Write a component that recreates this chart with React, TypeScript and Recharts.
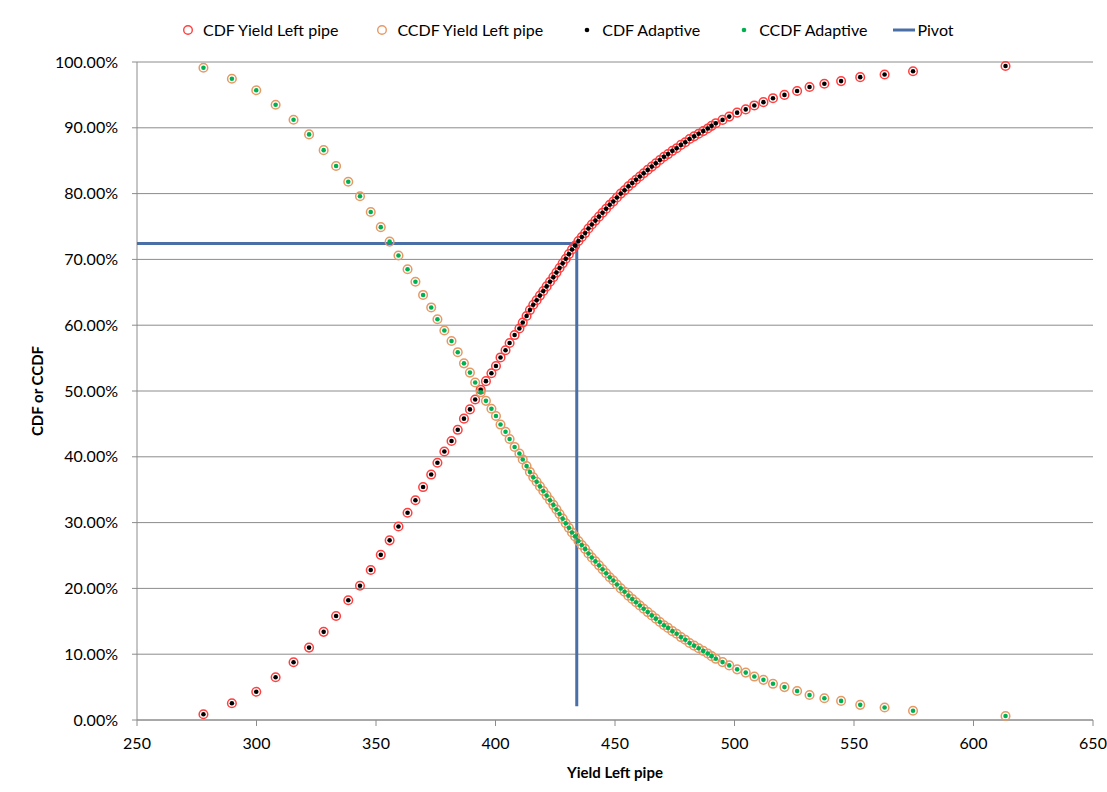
import { ScatterChart, Scatter, XAxis, YAxis, CartesianGrid } from 'recharts';

// Yield values (x) shared by the CDF / CCDF samples
const yieldX = [
  277.8, 289.7, 299.9, 308.0, 315.5, 322.0, 328.1, 333.3, 338.4, 343.3,
  347.8, 352.0, 355.7, 359.4, 363.2, 366.5, 369.7, 373.1, 375.7, 378.6,
  381.6, 384.2, 386.8, 389.3, 391.5, 393.8, 396.0, 398.3, 400.2, 402.1,
  404.2, 405.9, 408.0, 410.0, 411.4, 413.0, 414.4, 415.8, 417.2, 418.6,
  420.0, 421.4, 422.8, 424.2, 425.5, 426.8, 428.1, 429.4, 430.7, 432.0,
  433.3, 434.7, 436.1, 437.5, 438.9, 440.3, 441.8, 443.3, 444.8, 446.3,
  447.8, 449.3, 450.8, 452.4, 454.0, 455.6, 457.2, 458.8, 460.4, 462.0,
  463.7, 465.4, 467.1, 468.8, 470.5, 472.2, 474.0, 475.8, 477.6, 479.4,
  481.2, 483.1, 485.0, 486.9, 488.8, 490.4, 492.2, 495.0, 497.8, 501.1,
  504.7, 508.3, 512.1, 516.1, 520.9, 526.2, 531.4, 537.6, 544.6, 552.6,
  562.8, 574.7, 613.4,
];

// CDF in percent
const cdfPct = [
  0.87, 2.54, 4.3, 6.5, 8.77, 11.0, 13.4, 15.8, 18.2, 20.4,
  22.8, 25.1, 27.3, 29.4, 31.5, 33.4, 35.4, 37.3, 39.1, 40.8,
  42.4, 44.1, 45.8, 47.2, 48.7, 50.2, 51.5, 52.7, 53.8, 55.1,
  56.2, 57.3, 58.5, 59.5, 60.4, 61.4, 62.3, 63.1, 63.8, 64.5,
  65.2, 65.9, 66.6, 67.3, 68.0, 68.7, 69.4, 70.1, 70.8, 71.5,
  72.1, 72.8, 73.4, 74.0, 74.7, 75.3, 75.9, 76.5, 77.1, 77.7,
  78.3, 78.8, 79.4, 80.0, 80.5, 81.1, 81.6, 82.1, 82.6, 83.1,
  83.6, 84.1, 84.6, 85.1, 85.6, 86.0, 86.5, 86.9, 87.4, 87.8,
  88.3, 88.7, 89.1, 89.5, 89.9, 90.3, 90.7, 91.2, 91.7, 92.3,
  92.8, 93.4, 93.9, 94.5, 95.0, 95.6, 96.2, 96.7, 97.1, 97.7,
  98.1, 98.6, 99.4,
];

// CCDF in percent
const ccdfPct = [
  99.13, 97.46, 95.7, 93.5, 91.23, 89.0, 86.6, 84.2, 81.8, 79.6,
  77.2, 74.9, 72.7, 70.6, 68.5, 66.6, 64.6, 62.7, 60.9, 59.2,
  57.6, 55.9, 54.2, 52.8, 51.3, 49.8, 48.5, 47.3, 46.2, 44.9,
  43.8, 42.7, 41.5, 40.5, 39.6, 38.6, 37.7, 36.9, 36.2, 35.5,
  34.8, 34.1, 33.4, 32.7, 32.0, 31.3, 30.6, 29.9, 29.2, 28.5,
  27.9, 27.2, 26.6, 26.0, 25.3, 24.7, 24.1, 23.5, 22.9, 22.3,
  21.7, 21.2, 20.6, 20.0, 19.5, 18.9, 18.4, 17.9, 17.4, 16.9,
  16.4, 15.9, 15.4, 14.9, 14.4, 14.0, 13.5, 13.1, 12.6, 12.2,
  11.7, 11.3, 10.9, 10.5, 10.1, 9.7, 9.3, 8.8, 8.3, 7.7,
  7.2, 6.6, 6.1, 5.5, 5.0, 4.4, 3.8, 3.3, 2.9, 2.3,
  1.9, 1.4, 0.6,
];

// Pivot guide: across from the y axis, then down
const pivotX = [250, 434, 434];
const pivotY = [72.4, 72.4, 2.1];

const xTicks = [250, 300, 350, 400, 450, 500, 550, 600, 650];
const yTicks = [0, 10, 20, 30, 40, 50, 60, 70, 80, 90, 100];

const cdfData = yieldX.map((x, i) => ({ x, y: cdfPct[i] }));
const ccdfData = yieldX.map((x, i) => ({ x, y: ccdfPct[i] }));
const pivotData = pivotX.map((x, i) => ({ x, y: pivotY[i] }));

const RED = '#ff4040';
const ORANGE = '#e59a66';
const GREEN = '#00b050';
const PIVOT = '#4a6ea6';
const GRID = '#8c8c8c';
const FONT = 'Lato, "Open Sans", sans-serif';

// hollow markers for the yield series
const ring = (color: string) => (props: any) =>
  <circle cx={props.cx} cy={props.cy} r={4.3} fill="none" stroke={color} strokeWidth={1.5} />;

// small filled markers for the adaptive series
const dot = (color: string) => (props: any) =>
  <circle cx={props.cx} cy={props.cy} r={2.3} fill={color} />;

function LegendRow() {
  const items = [
    { label: 'CDF Yield Left pipe', icon: <circle cx={6} cy={8} r={4.3} fill="none" stroke={RED} strokeWidth={1.4} /> },
    { label: 'CCDF Yield Left pipe', icon: <circle cx={6} cy={8} r={4.3} fill="none" stroke={ORANGE} strokeWidth={1.4} /> },
    { label: 'CDF Adaptive', icon: <circle cx={6} cy={8} r={2.3} fill="#000" /> },
    { label: 'CCDF Adaptive', icon: <circle cx={6} cy={8} r={2.3} fill={GREEN} /> },
  ];
  return (
    <div style={{ position: 'absolute', left: 182, top: 20, display: 'flex', alignItems: 'center', gap: 38, fontFamily: FONT, fontSize: 16, color: '#000', whiteSpace: 'nowrap' }}>
      {items.map((it) => (
        <div key={it.label} style={{ display: 'flex', alignItems: 'center' }}>
          <svg width={21} height={16}>{it.icon}</svg>
          <span>{it.label}</span>
        </div>
      ))}
      <div style={{ display: 'flex', alignItems: 'center', marginLeft: -12 }}>
        <svg width={24} height={16}><line x1={0} y1={8} x2={22} y2={8} stroke={PIVOT} strokeWidth={3} /></svg>
        <span>Pivot</span>
      </div>
    </div>
  );
}

export default function App() {
  return (
    <div style={{ position: 'absolute', left: 0, top: 0, width: 1107, height: 792, background: '#fff' }}>
      <LegendRow />
      <ScatterChart width={1107} height={792} margin={{ top: 62, right: 14, bottom: 0, left: 0 }}>
        <CartesianGrid vertical={false} stroke={GRID} strokeWidth={1} />
        <XAxis
          type="number"
          dataKey="x"
          domain={[250, 650]}
          ticks={xTicks}
          interval={0}
          height={72}
          axisLine={{ stroke: GRID }}
          tickLine={{ stroke: GRID }}
          tickSize={6}
          tickMargin={12}
          tick={{ fontSize: 16, fill: '#000', fontFamily: FONT }}
          label={{ value: 'Yield Left pipe', position: 'insideBottom', offset: 14, style: { fontSize: 15, fontWeight: 700, fill: '#000', fontFamily: FONT } }}
        />
        <YAxis
          type="number"
          dataKey="y"
          domain={[0, 100]}
          ticks={yTicks}
          interval={0}
          width={137}
          axisLine={{ stroke: GRID }}
          tickLine={{ stroke: GRID }}
          tickSize={5}
          tickMargin={14}
          tickFormatter={(v: number) => `${v.toFixed(2)}%`}
          tick={{ fontSize: 16, fill: '#000', fontFamily: FONT }}
          label={{ value: 'CDF or CCDF', angle: -90, position: 'insideLeft', offset: 38, style: { textAnchor: 'middle', fontSize: 15, fontWeight: 700, fill: '#000', fontFamily: FONT } }}
        />
        <Scatter name="Pivot" data={pivotData} line={{ stroke: PIVOT, strokeWidth: 3 }} shape={() => null} isAnimationActive={false} />
        <Scatter name="CDF Yield Left pipe" data={cdfData} shape={ring(RED)} isAnimationActive={false} />
        <Scatter name="CCDF Yield Left pipe" data={ccdfData} shape={ring(ORANGE)} isAnimationActive={false} />
        <Scatter name="CDF Adaptive" data={cdfData} shape={dot('#000')} isAnimationActive={false} />
        <Scatter name="CCDF Adaptive" data={ccdfData} shape={dot(GREEN)} isAnimationActive={false} />
      </ScatterChart>
    </div>
  );
}
